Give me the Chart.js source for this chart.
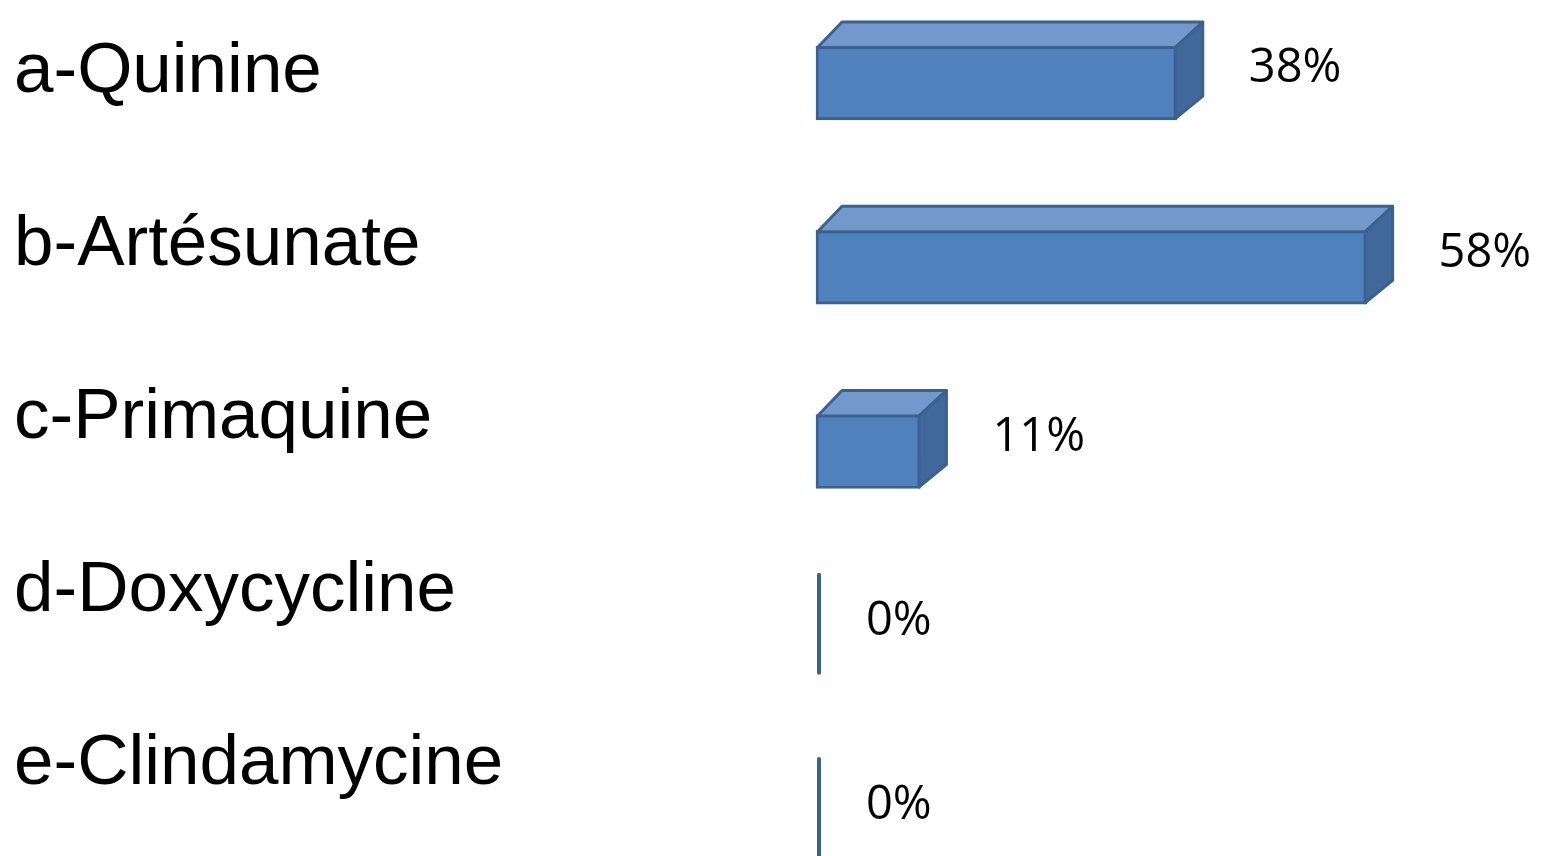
<!DOCTYPE html>
<html>
<head>
<meta charset="utf-8">
<script src="https://cdn.jsdelivr.net/npm/chart.js@4"></script>
<style>
  html, body { margin: 0; background: #fff; }
  #wrap { width: 1554px; height: 856px; }
</style>
</head>
<body>
<div id="wrap"><canvas id="chartMedicamentos"></canvas></div>
<script>
const categorias = ["a-Quinine", "b-Artésunate", "c-Primaquine", "d-Doxycycline", "e-Clindamycine"];
const porcentajes = [38, 58, 11, 0, 0];
const indicesEtiquetas = [0, 1, 2, 3, 4];

// profundidad del efecto 3D
const DX = 26;
const DY = 24;

const barras3D = {
  id: "barras3D",
  afterDatasetsDraw(chart) {
    const ctx = chart.ctx;
    const meta = chart.getDatasetMeta(0);
    meta.data.forEach((bar, i) => {
      const { x, y, base, height } = bar.getProps(["x", "y", "base", "height"], true);
      const top = y - height / 2;
      const bottom = y + height / 2;
      ctx.save();
      ctx.lineJoin = "round";
      ctx.strokeStyle = "#3b6190";
      ctx.lineWidth = 3;
      if (porcentajes[i] > 0) {
        // cara superior
        ctx.beginPath();
        ctx.moveTo(base + 1.5, top + 1.5);
        ctx.lineTo(base + DX, top - DY);
        ctx.lineTo(x + DX, top - DY);
        ctx.lineTo(x - 1.5, top + 1.5);
        ctx.closePath();
        ctx.fillStyle = "#7399cc";
        ctx.fill();
        ctx.stroke();
        // cara lateral
        ctx.beginPath();
        ctx.moveTo(x - 1.5, top + 1.5);
        ctx.lineTo(x + DX, top - DY);
        ctx.lineTo(x + DX, bottom - DY);
        ctx.lineTo(x - 1.5, bottom - 1.5);
        ctx.closePath();
        ctx.fillStyle = "#41689a";
        ctx.fill();
        ctx.stroke();
      } else {
        ctx.lineWidth = 4;
        ctx.lineCap = "round";
        ctx.beginPath();
        ctx.moveTo(base + 3, top - DY);
        ctx.lineTo(base + 3, bottom);
        ctx.stroke();
      }
      // etiqueta de valor
      ctx.font = "47px 'Open Sans'";
      ctx.fillStyle = "#000";
      ctx.textAlign = "left";
      ctx.textBaseline = "middle";
      const tx = porcentajes[i] > 0 ? x + DX + 46 : base + 50;
      ctx.fillText(porcentajes[i] + "%", tx, y - 14);
      ctx.restore();
    });
  },
};

new Chart(document.getElementById("chartMedicamentos"), {
  type: "bar",
  data: {
    labels: categorias,
    datasets: [
      {
        data: porcentajes,
        backgroundColor: "#4f81bd",
        borderColor: "#3b6190",
        borderWidth: 3,
        borderSkipped: false,
        barThickness: 74,
        clip: false,
      },
    ],
  },
  options: {
    indexAxis: "y",
    responsive: true,
    maintainAspectRatio: false,
    animation: false,
    layout: { padding: { left: 14, right: 7, top: 83, bottom: 36 } },
    plugins: { legend: { display: false }, tooltip: { enabled: false } },
    scales: {
      x: { type: "linear", min: 0, max: 77, display: false },
      y: { type: "category", offset: false, display: false },
      yEtiquetas: {
        type: "linear",
        position: "left",
        reverse: true,
        offset: false,
        min: 0.0636,
        max: 4.3236,
        grid: { display: false },
        border: { display: false },
        afterBuildTicks: (s) => {
          s.ticks = indicesEtiquetas.map((v) => ({ value: v }));
        },
        afterFit: (s) => {
          s.width = 802;
          s.paddingTop = 0;
          s.paddingBottom = 0;
        },
        ticks: {
          crossAlign: "far",
          autoSkip: false,
          color: "#000",
          font: { family: "'Liberation Sans', Arial, sans-serif", size: 71 },
          callback: (v) => categorias[v],
        },
      },
    },
  },
  plugins: [barras3D],
});
</script>
</body>
</html>
